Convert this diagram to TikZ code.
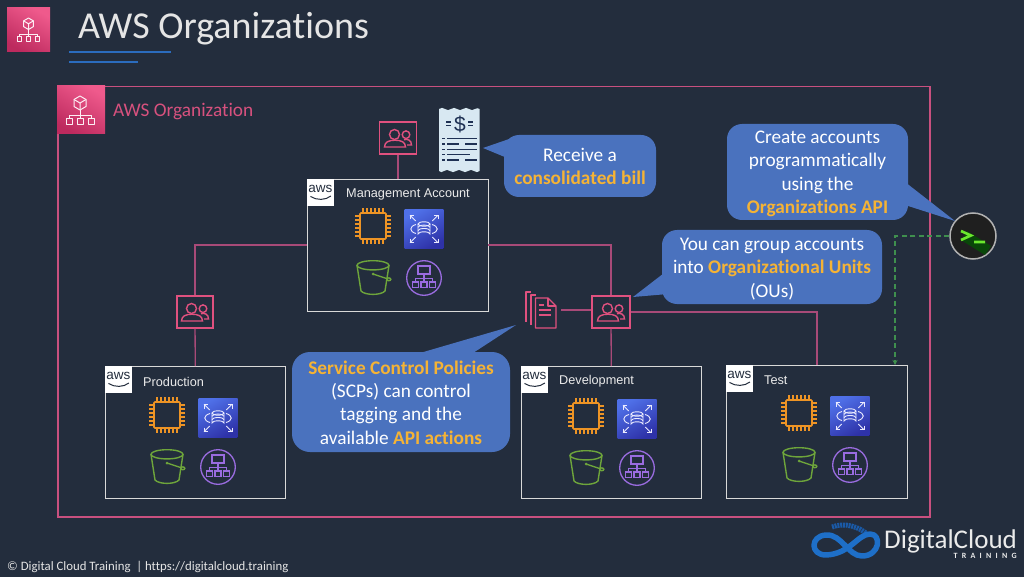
\documentclass[tikz,border=0pt]{standalone}
\usepackage{fontspec}
\setmainfont{Carlito}[Ligatures={NoCommon,NoRare,NoContextual}]
\newfontfamily\lblfont{Liberation Sans}
\usetikzlibrary{arrows.meta,calc}
\definecolor{bg}{HTML}{232D3D}
\definecolor{pinkln}{HTML}{E0517F}
\definecolor{pinkdim}{HTML}{A84A78}
\definecolor{pinkhi}{HTML}{EF5A8C}
\definecolor{pinkframe}{HTML}{C8507F}
\definecolor{pinktile}{HTML}{BD2A5E}
\definecolor{callblue}{HTML}{4A72BE}
\definecolor{orangetxt}{HTML}{F5B335}
\definecolor{chip}{HTML}{EE9425}
\definecolor{bucket}{HTML}{6EA53B}
\definecolor{purp}{HTML}{9A6CE0}
\definecolor{rdsa}{HTML}{2E32A8}
\definecolor{rdsb}{HTML}{4F70E8}
\definecolor{ulblue}{HTML}{2B6CBE}
\definecolor{greend}{HTML}{3F8F4E}
\definecolor{receipt}{HTML}{D8E8F2}
\definecolor{receiptink}{HTML}{1F3154}
\definecolor{logo}{HTML}{1E6FC8}
\definecolor{logodark}{HTML}{1A5AA8}
\definecolor{termgreen}{HTML}{6BE82E}
\tikzset{
 acct/.style={draw=white!85!black,line width=1pt,fill=bg,anchor=north west,inner sep=0pt},
 awstile/.style={fill=white,anchor=north west,minimum size=27.5pt,inner sep=0pt},
 acctlabel/.style={text=white!92!black,font=\lblfont\fontsize{12.7}{14}\selectfont,inner sep=0pt},
 callout/.style={fill=callblue,rounded corners=15pt,inner sep=0pt},
 callouttext/.style={text=white,align=center,inner sep=0pt,font=\fontsize{19.3}{23.4}\selectfont},
 tail/.style={fill=callblue},
 link/.style={draw=pinkdim,line width=1.3pt},
 dash link/.style={draw=greend,line width=1.2pt,dash pattern=on 5pt off 3.5pt},
 usersbox/.style={draw=pinkln,line width=1.4pt,fill=bg,inner sep=0pt,minimum width=37pt,minimum height=32pt},
 pics/chipicon/.style={code={
  \draw[chip,line width=1.6pt,rounded corners=1pt] (-13,-13) rectangle (13,13);
  \foreach \p in {-10,-6,-2,2,6,10}{
   \draw[chip,line width=1.2pt] (\p,-13)--(\p,-18) (\p,13)--(\p,18) (-13,\p)--(-18,\p) (13,\p)--(18,\p);}
 }},
 pics/rdsicon/.style={code={
  \fill[bottom color=rdsa,top color=rdsb,shading angle=30] (-19.5,-19.5) rectangle (19.5,19.5);
  \begin{scope}[white!92!blue,line width=.9pt]
   \draw (-6,-5) -- (-6,5) arc[x radius=6,y radius=2.2,start angle=180,end angle=360] -- (6,-5);
   \draw (0,-5) ellipse[x radius=6,y radius=2.2];
   \draw (-6,-1.7) arc[x radius=6,y radius=2.2,start angle=180,end angle=360];
   \draw (-6,1.7) arc[x radius=6,y radius=2.2,start angle=180,end angle=360];
   \draw (-8,-4.5) .. controls (-15,-2.5) and (-15,2.5) .. (-8,4.5);
   \draw (8,-4.5) .. controls (15,-2.5) and (15,2.5) .. (8,4.5);
   \foreach \sx/\sy in {-1/-1,1/-1,-1/1,1/1}{
    \draw (\sx*8.3,\sy*8)--(\sx*14,\sy*13.7);
    \draw (\sx*14,\sy*9.5)--(\sx*14,\sy*13.7)--(\sx*9.8,\sy*13.7);}
  \end{scope}
 }},
 pics/bucketicon/.style={code={
  \begin{scope}[bucket,line width=1.4pt]
   \draw (0,-12.7) ellipse[x radius=16,y radius=4.6];
   \draw (-16,-12.7) -- (-12,13) .. controls (-8,17.5) and (8,17.5) .. (12,13) -- (16,-12.7);
   \draw (0,-4) -- (15,1);
   \fill (0,-4) circle (1.5);
   \draw (15.8,1.3) ellipse[x radius=2,y radius=1.4];
  \end{scope}
 }},
 pics/orgcircle/.style={code={
  \begin{scope}[purp,line width=1.3pt]
   \draw (0,0) circle (17.3);
   \begin{scope}[line width=1.1pt]
    \draw (-6,-12) rectangle (6,-4);
    \draw (0,-4)--(0,4) (-8.3,4)--(-8.3,0.5)--(8.3,0.5)--(8.3,4);
    \foreach \a in {-8.3,0,8.3}{\draw (\a-3,4) rectangle (\a+3,9.5);}
   \end{scope}
  \end{scope}
 }},
 pics/usersglyph/.style={code={
  \begin{scope}[pinkln,line width=1.4pt]
   \draw (-3.5,-3.5) circle (5);
   \draw (-13.5,9) .. controls (-13.5,4) and (-9,2.2) .. (-3,2.2) .. controls (3,2.2) and (7.5,4) .. (7.5,9) -- cycle;
   \draw (8,-3.3) circle (3.8);
   \draw (6,1.7) .. controls (10,0.5) and (13.5,2.5) .. (13.5,7) -- (9,7);
  \end{scope}
 }},
 pics/orgglyph/.style={code={
  \begin{scope}[white!90!pinkhi,line width=1pt,line join=round]
   \draw (0,-14)--(6,-10.5)--(6,-3.5)--(0,0)--(-6,-3.5)--(-6,-10.5)--cycle;
   \draw (-6,-10.5)--(0,-7)--(6,-10.5) (0,-7)--(0,0);
   \draw (0,0)--(0,6) (-11,9)--(-11,6)--(11,6)--(11,9) (0,6)--(0,9);
   \foreach \a in {-11,0,11}{\draw (\a-3,9) rectangle (\a+3,15);}
  \end{scope}
 }},
}
\newcommand{\acctbox}[9]{%
 % name, x, y, width, height, label, labelx, ex, ey
 \node[acct,minimum width=#4pt,minimum height=#5pt] (#1) at (#2,#3) {};
 \node[awstile] (#1aws) at (#2-.5,#3-.5) {};
 \node[text=bg,font=\lblfont\fontsize{13.5}{13}\selectfont,inner sep=0pt] (#1awst) at ($(#1aws.center)+(0,-3.5)$) {aws};
 \draw[bg,line width=1pt] ($(#1aws.center)+(-10,4)$) .. controls ($(#1aws.center)+(-4,8)$) and ($(#1aws.center)+(5,8)$) .. ($(#1aws.center)+(10.5,3.5)$);
 \node[acctlabel,anchor=west] (#1lbl) at (#7,#3+15.5) {#6};
 \pic at (#8,#9) {chipicon};
 \pic at (#8+51,#9+3) {rdsicon};
 \pic at (#8,#9+52) {bucketicon};
 \pic at (#8+51,#9+52) {orgcircle};
}
\newcommand{\hl}[1]{{\bfseries\color{orangetxt}#1}}
\begin{document}
\begin{tikzpicture}[x=1pt,y=-1pt]
\useasboundingbox (0,0) rectangle (1024,577);
\fill[bg] (0,0) rectangle (1024,577);
% title
\fill[bottom color=pinktile,top color=pinkhi,shading angle=-30] (7,8) rectangle (50,52);
\pic[scale=.82] at (28.5,29.5) {orgglyph};
\node[anchor=west,inner sep=0pt,text=white!90!black,font=\fontsize{38}{40}\selectfont] (title) at (78,29) {AWS Organizations};
\fill[ulblue] (69,51) rectangle (171,53.2);
\fill[ulblue] (69,61) rectangle (138,62.8);
% organisation frame
\node[draw=pinkframe,line width=1.5pt,anchor=north west,minimum width=872pt,minimum height=430pt,inner sep=0pt] (org) at (57,86) {};
\fill[bottom color=pinktile,top color=pinkhi,shading angle=-30] (57,85.5) rectangle (105,134);
\pic at (80,110) {orgglyph};
\node[anchor=west,inner sep=0pt,text=pinkhi!90!black,font=\fontsize{19.3}{20}\selectfont] (orgl) at (113,111.5) {AWS Organization};
% users boxes
\node[usersbox] (umgmt) at (398,138) {};
\node[usersbox,minimum width=36pt] (uprod) at (195,312) {};
\node[usersbox,minimum width=38pt] (udev) at (611,312) {};
% accounts
\acctbox{mgmt}{307}{179}{181}{132}{Management Account}{346}{373}{226}
\acctbox{prod}{105}{366}{180}{131.5}{Production}{143}{167}{415}
\acctbox{dev}{521}{366}{180}{131.5}{Development}{559}{586}{416}
\acctbox{test}{726}{365}{181}{133}{Test}{764}{799}{413}
% connectors
\coordinate (mL) at (307,245);
\coordinate (mR) at (488,245);
\draw[link] (umgmt) -- (mgmt);
\draw[link] (mL) -| (uprod.north);
\draw[link] (uprod) -- (prod);
\draw[link] (mR) -| (udev.north);
\draw[link] (udev) -- (dev);
\draw[link] (udev.east) -| (test.north-|817,0);
% doc icon
\coordinate (doc) at (542,310);
\draw[link] (561,310) -- (udev.west|-0,310);
\begin{scope}[pinkln,line width=1.3pt,line join=round]
 \draw (531,292)--(526,292)--(526,322);
 \draw (535.5,295)--(531,295)--(531,325);
 \draw[fill=bg] (535.5,298)--(548,298)--(556,306)--(556,328)--(535.5,328)--cycle;
 \draw (548,298)--(548,306)--(556,306);
 \draw (538.5,305)--(544,305) (538.5,310)--(551,310) (538.5,315)--(551,315);
\end{scope}
\pic at (398,138) {usersglyph};
\pic at (195,312) {usersglyph};
\pic at (611,312) {usersglyph};
% receipt
\fill[receipt] (439,109) .. controls (441,107.5) and (443,107.5) .. (445,109) .. controls (447,110.5) and (449,110.5) .. (451,109) .. controls (453,107.5) and (455,107.5) .. (457,109) .. controls (459,110.5) and (461,110.5) .. (463,109) .. controls (465,107.5) and (467,107.5) .. (469,109) .. controls (471,110.5) and (473,110.5) .. (475,109) .. controls (476.5,108) and (478,108) .. (479.5,109)
 -- (479.5,171) .. controls (478,172.5) and (476,172.5) .. (474,171) .. controls (472,169.5) and (470,169.5) .. (468,171) .. controls (466,172.5) and (464,172.5) .. (462,171) .. controls (460,169.5) and (458,169.5) .. (456,171) .. controls (454,172.5) and (452,172.5) .. (450,171) .. controls (448,169.5) and (446,169.5) .. (444,171) .. controls (442,172.5) and (440.5,172.5) .. (439,171) -- cycle;
\begin{scope}[receiptink,line width=1.5pt]
 \node[text=receiptink,inner sep=0pt,font=\lblfont\fontsize{21}{22}\selectfont] (dollar) at (460,124) {\$};
 \draw (446,122)--(451,122) (446,125.5)--(451,125.5) (468,122)--(473,122) (468,125.5)--(473,125.5);
 \draw (442,138.7)--(444.5,138.7) (447,138.7)--(477,138.7);
 \draw (442,144)--(444.5,144) (447,144)--(459,144) (465,144)--(477,144);
 \draw (442,149.3)--(444.5,149.3) (447,149.3)--(477,149.3);
 \draw (442,154.7)--(444.5,154.7) (447,154.7)--(470,154.7);
 \draw (442,160)--(444.5,160) (447,160)--(459,160) (465,160)--(477,160);
\end{scope}
% dashed
\node[circle,draw=white!70!black,line width=1.5pt,fill=black!88!white,minimum size=46pt,inner sep=0pt] (term) at (973,236) {};
\fill[green!35!black,opacity=.7] (961,240)--(967,231)--(991,246)--(985,255)--cycle;
\draw[line width=2.6pt,draw=termgreen] (961,231)--(971,235.5)--(961,240) (974,242)--(985,242);
\coordinate (dk) at (895,236);
\draw[dash link,-{Stealth[length=5pt,width=5pt]}] (term.west) -- (dk) -- (dk|-test.north);
% callouts
\fill[tail] (483,148)--(512,138)--(512,160)--cycle;
\node[callout,minimum width=152pt,minimum height=62pt] (c1) at (580,166) {};
\node[callouttext] (c1t) at (580,166.5) {Receive a\\\hl{consolidated bill}};
\fill[tail] (955,221)--(905,182)--(905,205)--cycle;
\node[callout,minimum width=181pt,minimum height=96pt] (c2) at (817.5,172) {};
\node[callouttext] (c2t) at (817.5,174) {Create accounts\\programmatically\\using the\\\hl{Organizations API}};
\fill[tail] (633,297)--(668,270)--(668,294)--cycle;
\node[callout,minimum width=220pt,minimum height=74pt] (c3) at (772,267) {};
\node[callouttext] (c3t) at (772,269) {You can group accounts\\into \hl{Organizational Units}\\(OUs)};
\fill[tail] (516,325)--(420,353)--(473,353)--cycle;
\node[callout,rounded corners=18pt,minimum width=218pt,minimum height=100pt] (c4) at (401,402) {};
\node[callouttext] (c4t) at (401,402.5) {\hl{Service Control Policies}\\(SCPs) can control\\tagging and the\\available \hl{API actions}};
% footer
\node[anchor=west,inner sep=0pt,text=white!90!black,font=\fontsize{12.8}{15}\selectfont] (foot) at (7,567) {© Digital Cloud Training\ \ | https://digitalcloud.training};
% logo
\draw[logodark,line width=5pt,dash pattern=on 2pt off .8pt] (832,527) .. controls (845,522) and (860,527) .. (868,535);
\draw[logo,line width=5.5pt,line join=round] (870,534) .. controls (858,534) and (850,554) .. (826,555) .. controls (810,555) and (810,536) .. (826,535) .. controls (842,534) and (848,556) .. (862,556) .. controls (880,556) and (882,534) .. (870,534) -- cycle;
\node[anchor=west,inner sep=0pt,text=white!92!black,font=\fontsize{27}{28}\selectfont] (dc) at (884,541) {DigitalCloud};
\node[anchor=east,inner sep=0pt,text=white!92!black,font=\bfseries\fontsize{8}{8}\selectfont] (tr) at (1017,556) {T\hspace{4.3pt}R\hspace{4.3pt}A\hspace{4.3pt}I\hspace{4.3pt}N\hspace{4.3pt}I\hspace{4.3pt}N\hspace{4.3pt}G};
\end{tikzpicture}
\end{document}
